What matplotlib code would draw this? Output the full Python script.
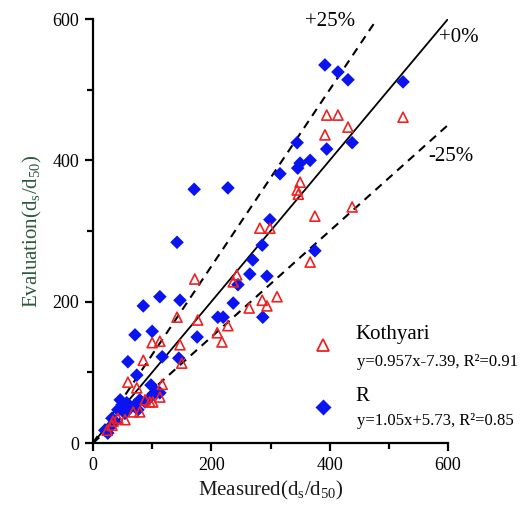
import matplotlib
matplotlib.use("Agg")
import matplotlib.pyplot as plt
from matplotlib.lines import Line2D
from matplotlib.ticker import MultipleLocator

plt.rcParams['font.family'] = ['Liberation Serif', 'DejaVu Serif']
plt.rcParams['mathtext.fontset'] = 'custom'
plt.rcParams['mathtext.rm'] = 'Liberation Serif'
plt.rcParams['mathtext.it'] = 'Liberation Serif'

# Kothyari (red open triangles)
k_x = [395, 414, 431, 524, 392, 350, 345, 347, 438, 375, 367, 282, 299, 172, 243,
       237, 311, 286, 294, 264, 142, 177, 228, 210, 218, 100, 113, 147, 85, 150,
       59, 74, 117, 96, 101, 113, 88, 68, 42, 34, 32, 24, 79, 54]
k_y = [464, 464, 447, 461, 436, 369, 358, 352, 334, 321, 256, 304, 304, 232, 238,
       228, 207, 202, 194, 191, 178, 174, 166, 156, 143, 142, 144, 139, 117, 113,
       86, 78, 83, 58, 58, 65, 61, 44, 35, 31, 25, 18, 44, 33]

# R (blue diamonds)
r_x = [392, 414, 431, 524, 345, 395, 438, 367, 350, 346, 316, 171, 228, 299, 142,
       286, 270, 265, 294, 245, 375, 113, 85, 147, 237, 211, 220, 287, 71, 100,
       176, 59, 117, 145, 74, 98, 108, 113, 57, 79, 49, 63, 71, 42, 54, 32, 37,
       29, 20, 25, 88, 46, 96, 76]
r_y = [535, 525, 514, 511, 425, 416, 425, 400, 396, 389, 381, 359, 361, 316, 284,
       280, 259, 239, 236, 224, 272, 207, 194, 202, 198, 178, 178, 178, 153, 158,
       150, 115, 122, 120, 96, 82, 72, 71, 57, 61, 54, 50, 54, 47, 42, 35, 30,
       23, 18, 14, 58, 61, 64, 47]

series_names = ["Kothyari", "R"]
equations = ["y=0.957x-7.39, R\u00b2=0.91", "y=1.05x+5.73, R\u00b2=0.85"]

ref_x = [0, 600]
plus_x = [0, 475]
minus_x = [0, 600]

fig = plt.figure(figsize=(5.2, 5.16), dpi=100)
ax = fig.add_axes([93/520, 1-443/516, 355/520, 424/516])

ax.plot(ref_x, [v * 1.0 for v in ref_x], color='black', lw=1.3, zorder=1)
ax.plot(plus_x, [v * 1.25 for v in plus_x], color='black', lw=1.5, ls=(0, (4, 3)), zorder=1)
ax.plot(minus_x, [v * 0.75 for v in minus_x], color='black', lw=1.5, ls=(0, (4, 3)), zorder=1)

ax.scatter(k_x, k_y, marker='^', s=52, facecolors='none', edgecolors='#ee2222',
           linewidths=1.2, zorder=3)
ax.scatter(r_x, r_y, marker='D', s=48, color='#0a14f0', edgecolors='none', zorder=2)

ax.text(401, 596, "+25%", fontsize=15, ha='center', va='center')
ax.text(619, 574, "+0%", fontsize=15, ha='center', va='center')
ax.text(605, 405, "-25%", fontsize=15, ha='center', va='center')

ax.set_xlim(0, 600)
ax.set_ylim(0, 600)
ax.xaxis.set_major_locator(MultipleLocator(200))
ax.xaxis.set_minor_locator(MultipleLocator(100))
ax.yaxis.set_major_locator(MultipleLocator(200))
ax.yaxis.set_minor_locator(MultipleLocator(100))
for s in ['top', 'right']:
    ax.spines[s].set_visible(False)
for s in ['left', 'bottom']:
    ax.spines[s].set_linewidth(1.6)
ax.tick_params(which='major', direction='out', length=6, width=1.6, labelsize=13, pad=4)
ax.tick_params(which='minor', direction='out', length=4, width=1.6)

ax.set_xlabel("Measured(d$_s$/d$_{50}$)", fontsize=15, color='#1a1a1a', labelpad=4)
ax.set_ylabel("Evaluation(d$_s$/d$_{50}$)", fontsize=15, color='#2a5a3a', labelpad=6)

handles = [Line2D([], [], ls='none', marker='^', ms=9, mfc='none', mec='#ee2222', mew=1.3),
           Line2D([], [], ls='none', marker='D', ms=8, mfc='#0a14f0', mec='none')]
leg = ax.legend(handles, [n + "\n" for n in series_names], loc='upper left',
                bbox_to_anchor=(0.603, 0.278), frameon=False, fontsize=15,
                handlelength=1.5, handletextpad=0.8, labelspacing=1.0,
                borderpad=0, borderaxespad=0)
eq_y = [0.191, 0.052]
for eq, yy in zip(equations, eq_y):
    ax.text(0.744, yy, eq, transform=ax.transAxes, fontsize=12, ha='left', va='center')

fig.savefig("out.png", dpi=100)
